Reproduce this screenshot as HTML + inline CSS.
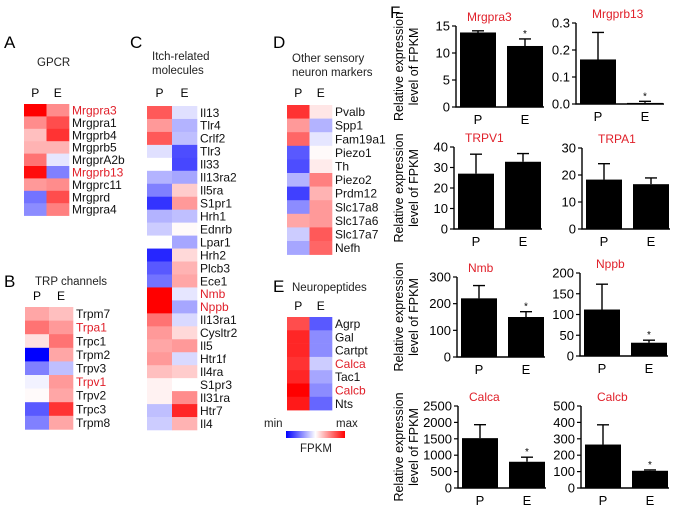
<!DOCTYPE html>
<html><head><meta charset="utf-8"><style>
html,body{margin:0;padding:0;background:#fff;}
svg{display:block;font-family:"Liberation Sans",Arial,sans-serif;}
</style></head><body>
<svg id="fig" width="677" height="507" viewBox="0 0 677 507" xmlns="http://www.w3.org/2000/svg">
<defs><linearGradient id="cbar" x1="0" x2="1" y1="0" y2="0"><stop offset="0" stop-color="#0000ff"/><stop offset="0.5" stop-color="#ffffff"/><stop offset="1" stop-color="#ff0000"/></linearGradient></defs>
<g font-size="17" fill="#000">
<text x="4" y="48">A</text>
<text x="4" y="287">B</text>
<text x="130" y="48">C</text>
<text x="273" y="48">D</text>
<text x="273" y="292">E</text>
<text x="390" y="18">F</text>
</g>
<g font-size="11.5" fill="#222">
<text x="37" y="66">GPCR</text>
<text x="35" y="285">TRP channels</text>
<text x="152" y="60">Itch-related</text>
<text x="152" y="74">molecules</text>
<text x="292" y="62">Other sensory</text>
<text x="292" y="76">neuron markers</text>
<text x="292" y="291">Neuropeptides</text>
<text x="264" y="427">min</text>
<text x="336" y="427">max</text>
<text x="300" y="452">FPKM</text>
</g>
<rect x="286" y="431" width="59" height="7" fill="url(#cbar)"/>
<g id="maps"></g>
<g id="bars"></g>
</svg>
<script>
const NS="http://www.w3.org/2000/svg";
// Heatmap data
const genesA=["Mrgpra3","Mrgpra1","Mrgprb4","Mrgprb5","MrgprA2b","Mrgprb13","Mrgprc11","Mrgprd","Mrgpra4"];
const pA=[1.0,0.45,0.25,0.3,0.55,0.95,0.4,-0.55,-0.45];
const eA=[0.45,0.7,0.8,0.3,-0.1,-0.5,0.45,0.7,0.5];
const redA=["Mrgpra3","Mrgprb13"];
const genesB=["Trpm7","Trpa1","Trpc1","Trpm2","Trpv3","Trpv1","Trpv2","Trpc3","Trpm8"];
const pB=[0.35,0.55,0.12,-1,-0.5,-0.05,0.02,-0.65,-0.5];
const eB=[0.25,0.4,0.55,0.35,-0.25,0.4,0.35,0.8,0.35];
const redB=["Trpa1","Trpv1"];
const genesC=["Il13","Tlr4","Crlf2","Tlr3","Il33","Il13ra2","Il5ra","S1pr1","Hrh1","Ednrb","Lpar1","Hrh2","Plcb3","Ece1","Nmb","Nppb","Il13ra1","Cysltr2","Il5","Htr1f","Il4ra","S1pr3","Il31ra","Htr7","Il4"];
const pC=[0.65,0.4,0.65,-0.12,0,-0.3,-0.5,-0.8,-0.3,-0.2,0,-0.85,-0.65,-0.55,1,1,0.55,0.4,0.35,0.4,0.25,0.05,0.05,-0.25,-0.2];
const eC=[-0.12,-0.3,-0.25,-0.7,-0.72,-0.35,0.2,0.4,-0.25,0.02,-0.35,0.15,0.3,0.35,-0.1,-0.35,-0.15,0.15,0.4,-0.15,0.2,0,0.45,0.85,0.3];
const redC=["Nmb","Nppb"];
const genesD=["Pvalb","Spp1","Fam19a1","Piezo1","Th","Piezo2","Prdm12","Slc17a8","Slc17a6","Slc17a7","Nefh"];
const pD=[0.8,0.4,0.6,-0.65,-0.7,-0.3,-0.75,-0.45,0.35,-0.2,-0.35];
const eD=[0.1,-0.3,-0.1,0.02,0.08,0.5,0.3,0.4,0.4,0.65,0.6];
const redD=[];
const genesE=["Agrp","Gal","Cartpt","Calca","Tac1","Calcb","Nts"];
const pE=[0.7,0.85,0.85,0.8,0.85,1,0.9];
const eE=[-0.65,-0.45,-0.45,-0.2,-0.35,-0.45,-0.6];
const redE=["Calca","Calcb"];

function col(v){
  v=Math.max(-1,Math.min(1,v));
  if(v>=0){const g=Math.round(255*(1-v));return `rgb(255,${g},${g})`;}
  const g=Math.round(255*(1+v));return `rgb(${g},${g},255)`;
}
const maps=document.getElementById('maps');
function heat(name,genes,pv,ev,reds,x0,cw,y0,rh,hdrY){
  const g=document.createElementNS(NS,'g');
  
  
  maps.appendChild(g);
  ["P","E"].forEach((h,j)=>{
    const t=document.createElementNS(NS,'text');
    
    
    t.setAttribute('x',x0+cw*j+cw/2);t.setAttribute('y',hdrY);
    t.setAttribute('text-anchor','middle');t.setAttribute('font-size','12');
    t.textContent=h;g.appendChild(t);
  });
  genes.forEach((gn,i)=>{
    [pv[i],ev[i]].forEach((v,j)=>{
      const r=document.createElementNS(NS,'rect');
      
      
      r.setAttribute('x',x0+cw*j);r.setAttribute('y',y0+rh*i);
      r.setAttribute('width',cw+0.3);r.setAttribute('height',rh+0.3);
      r.setAttribute('fill',col(v));g.appendChild(r);
    });
    const t=document.createElementNS(NS,'text');
    
    
    t.setAttribute('x',x0+2*cw+3);t.setAttribute('y',y0+rh*i+rh/2+4.3);
    t.setAttribute('font-size','12');
    t.setAttribute('fill',reds.includes(gn)?'#e0202a':'#111');
    t.textContent=gn;g.appendChild(t);
  });
}
heat('gpcr',genesA,pA,eA,redA,24,22.5,104,12.4,97);
heat('trp',genesB,pB,eB,redB,25,24,307,13.6,300);
heat('itch',genesC,pC,eC,redC,147,25,106,12.96,97);
heat('sensory',genesD,pD,eD,redD,287,22.5,105,13.6,97);
heat('neuropeptides',genesE,pE,eE,redE,287,22.5,317,13.3,310);

// Bar chart data
const barTitles=["Mrgpra3","Mrgprb13","TRPV1","TRPA1","Nmb","Nppb","Calca","Calcb"];
const barP=[13.8,0.165,27,18.3,220,112,1520,265];
const barE=[11.3,0.004,32.8,16.6,150,32,800,105];
const errP=[0.3,0.1,9.5,5.9,48,61,410,120];
const errE=[1.3,0.006,4,2.3,20,6,140,5];
const yMax=[15,0.3,40,30,300,200,2500,500];
const yTicks=[[0,5,10,15],[0.0,0.1,0.2,0.3],[0,10,20,30,40],[0,10,20,30],[0,100,200,300],[0,50,100,150,200],[0,500,1000,1500,2000,2500],[0,100,200,300,400,500]];
const tickLabels=[["0","5","10","15"],["0.0","0.1","0.2","0.3"],["0","10","20","30","40"],["0","10","20","30"],["0","100","200","300"],["0","50","100","150","200"],["0","500","1000","1500","2000","2500"],["0","100","200","300","400","500"]];
const sig=[true,true,false,false,true,true,true,true];
const axX=[456,576,454,582,457,580,458,581];
const axTop=[26,23,147,148,277,273,406,406];
const axBot=[107,104,229,229,357,356,488,488];
const bars=document.getElementById('bars');
function el(tag,attrs,parent){const e=document.createElementNS(NS,tag);for(const k in attrs)e.setAttribute(k,attrs[k]);parent.appendChild(e);return e;}
barTitles.forEach((tt,k)=>{
  const g=document.createElementNS(NS,'g');
  
  
  bars.appendChild(g);
  const x0=axX[k],top=axTop[k],bot=axBot[k],W=88;
  const ys=v=>bot-(v/yMax[k])*(bot-top);
  const cx=[x0+22,x0+69];
  const vals=[barP[k],barE[k]],errs=[errP[k],errE[k]];
  vals.forEach((v,j)=>{
    const r=el('rect',{x:cx[j]-18,y:ys(v),width:36,height:bot-ys(v),fill:'#000'},g);
    
    
    const ye=ys(v+errs[j]);
    const l=el('path',{d:`M${cx[j]},${ys(v)}V${ye}M${cx[j]-6},${ye}H${cx[j]+6}`,stroke:'#000','stroke-width':1.4,fill:'none'},g);
    
    
    const lb=el('text',{x:cx[j],y:bot+17,'text-anchor':'middle','font-size':'13'},g);
    
    
    lb.textContent=j?'E':'P';
  });
  if(sig[k]){
    const s=el('text',{x:cx[1],y:ys(barE[k]+errE[k])-2,'text-anchor':'middle','font-size':'10'},g);
    
    
    s.textContent='*';
  }
  const ax=el('path',{d:`M${x0},${top}V${bot}H${x0+W}`,stroke:'#000','stroke-width':1.4,fill:'none'},g);
  
  
  yTicks[k].forEach((tv,i)=>{
    const y=ys(tv);
    const tk=el('path',{d:`M${x0-4},${y}H${x0}`,stroke:'#000','stroke-width':1.2},g);
    
    
    const tl=el('text',{x:x0-6,y:y+4.5,'text-anchor':'end','font-size':'13'},g);
    
    
    tl.textContent=tickLabels[k][i];
  });
  const ti=el('text',{x:x0+(k%2?16:11),y:top-5,'font-size':'12',fill:'#e0202a'},g);
  
  
  ti.textContent=tt;
  if(k%2===0){
    const mid=(top+bot)/2;
    const y1=el('text',{x:0,y:0,'font-size':'12.5','text-anchor':'middle',transform:`translate(403,${mid}) rotate(-90)`},g);
    
    
    y1.textContent='Relative expression';
    const y2=el('text',{x:0,y:0,'font-size':'12.5','text-anchor':'middle',transform:`translate(418,${mid}) rotate(-90)`},g);
    
    
    y2.textContent='level of FPKM';
  }
});
</script>
</body></html>
